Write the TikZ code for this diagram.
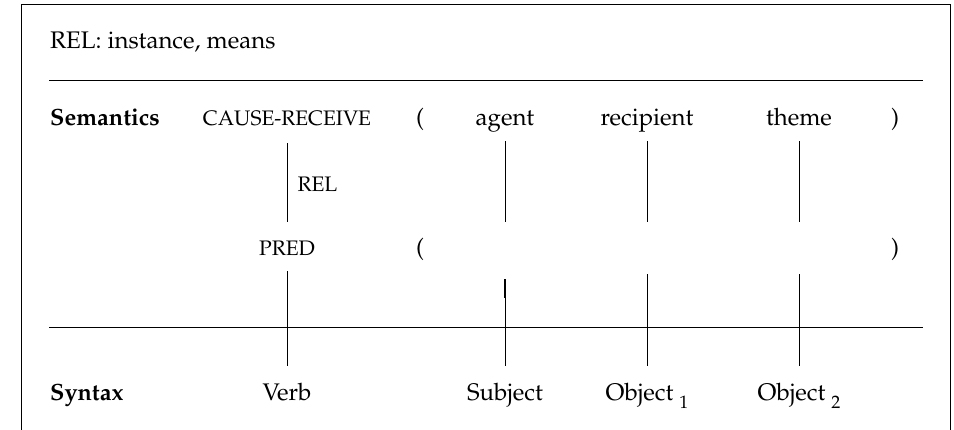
\documentclass[tikz,border=0pt]{standalone}
\usepackage[T1]{fontenc}
\usepackage{mathpazo}
\usepackage{tikz}
\usetikzlibrary{positioning}

\begin{document}
\begin{tikzpicture}[
        x=1pt, y=-1pt,
        every node/.style={font=\fontsize{24}{28}\selectfont, inner sep=0pt, text height=16pt, text depth=5pt, anchor=base},
        caps/.style={font=\fontsize{21}{25}\selectfont},
        rowlabel/.style={anchor=base west, font=\fontsize{23.5}{28}\selectfont\bfseries},
        rule/.style={line width=1pt},
        link/.style={line width=1pt}
    ]
    \useasboundingbox (0,0) rectangle (954,429);

    % Frame and rules
    \draw[rule] (21,432) -- (21,4) -- (950,4) -- (950,432);
    \draw[rule] (49,80) -- (923,80);
    \draw[rule] (49,327) -- (923,327);

    % Header
    \node[anchor=base west] (rel) at (50,48) {REL: instance, means};

    % Semantics row
    \node[rowlabel] (sem) at (50,125) {Semantics};
    \node[caps] (cr) at (287,125) {CAUSE-RECEIVE};
    \node (lpa) at (420,125) {(};
    \node (agent) at (505,125) {agent};
    \node (recip) at (647,125) {recipient};
    \node (theme) at (799,125) {theme};
    \node (rpa) at (895,125) {)};

    % Predicate row
    \node[caps] (pred) at (287,255) {PRED};
    \node (lpb) at (420,255) {(};
    \node (rpb) at (895,255) {)};

    % Syntax row
    \node[rowlabel] (syn) at (50,400) {Syntax};
    \node (verb) at (287,400) {Verb};
    \node (subj) at (505,400) {Subject};
    \node (obja) at (647,400) {Object \raisebox{-8pt}{\fontsize{18}{20}\selectfont 1}};
    \node (objb) at (799,400) {Object \raisebox{-8pt}{\fontsize{18}{20}\selectfont 2}};

    % Free ends
    \coordinate (agentend) at (505,222);
    \coordinate (recipend) at (647,222);
    \coordinate (themeend) at (799,222);
    \coordinate (subjtop) at (505,279);
    \coordinate (subjmid) at (505,298);
    \coordinate (objatop) at (647,274);
    \coordinate (objbtop) at (799,274);

    % Links
    \draw[link, shorten <=13pt, shorten >=17pt] (cr) -- node[caps, right=10pt, anchor=base west, yshift=-7pt] (rellink) {REL} (pred);
    \draw[link, shorten <=11pt] (agent) -- (agentend);
    \draw[link, shorten <=11pt] (recip) -- (recipend);
    \draw[link, shorten <=11pt] (theme) -- (themeend);
    \draw[link, shorten <=11pt, shorten >=18pt] (pred) -- (verb);
    \draw[link, shorten >=18pt] (subjtop) -- (subj);
    \draw[line width=1.6pt] (subjtop) -- (subjmid);
    \draw[link, shorten >=18pt] (objatop) -- (obja);
    \draw[link, shorten >=18pt] (objbtop) -- (objb);

\end{tikzpicture}
\end{document}
